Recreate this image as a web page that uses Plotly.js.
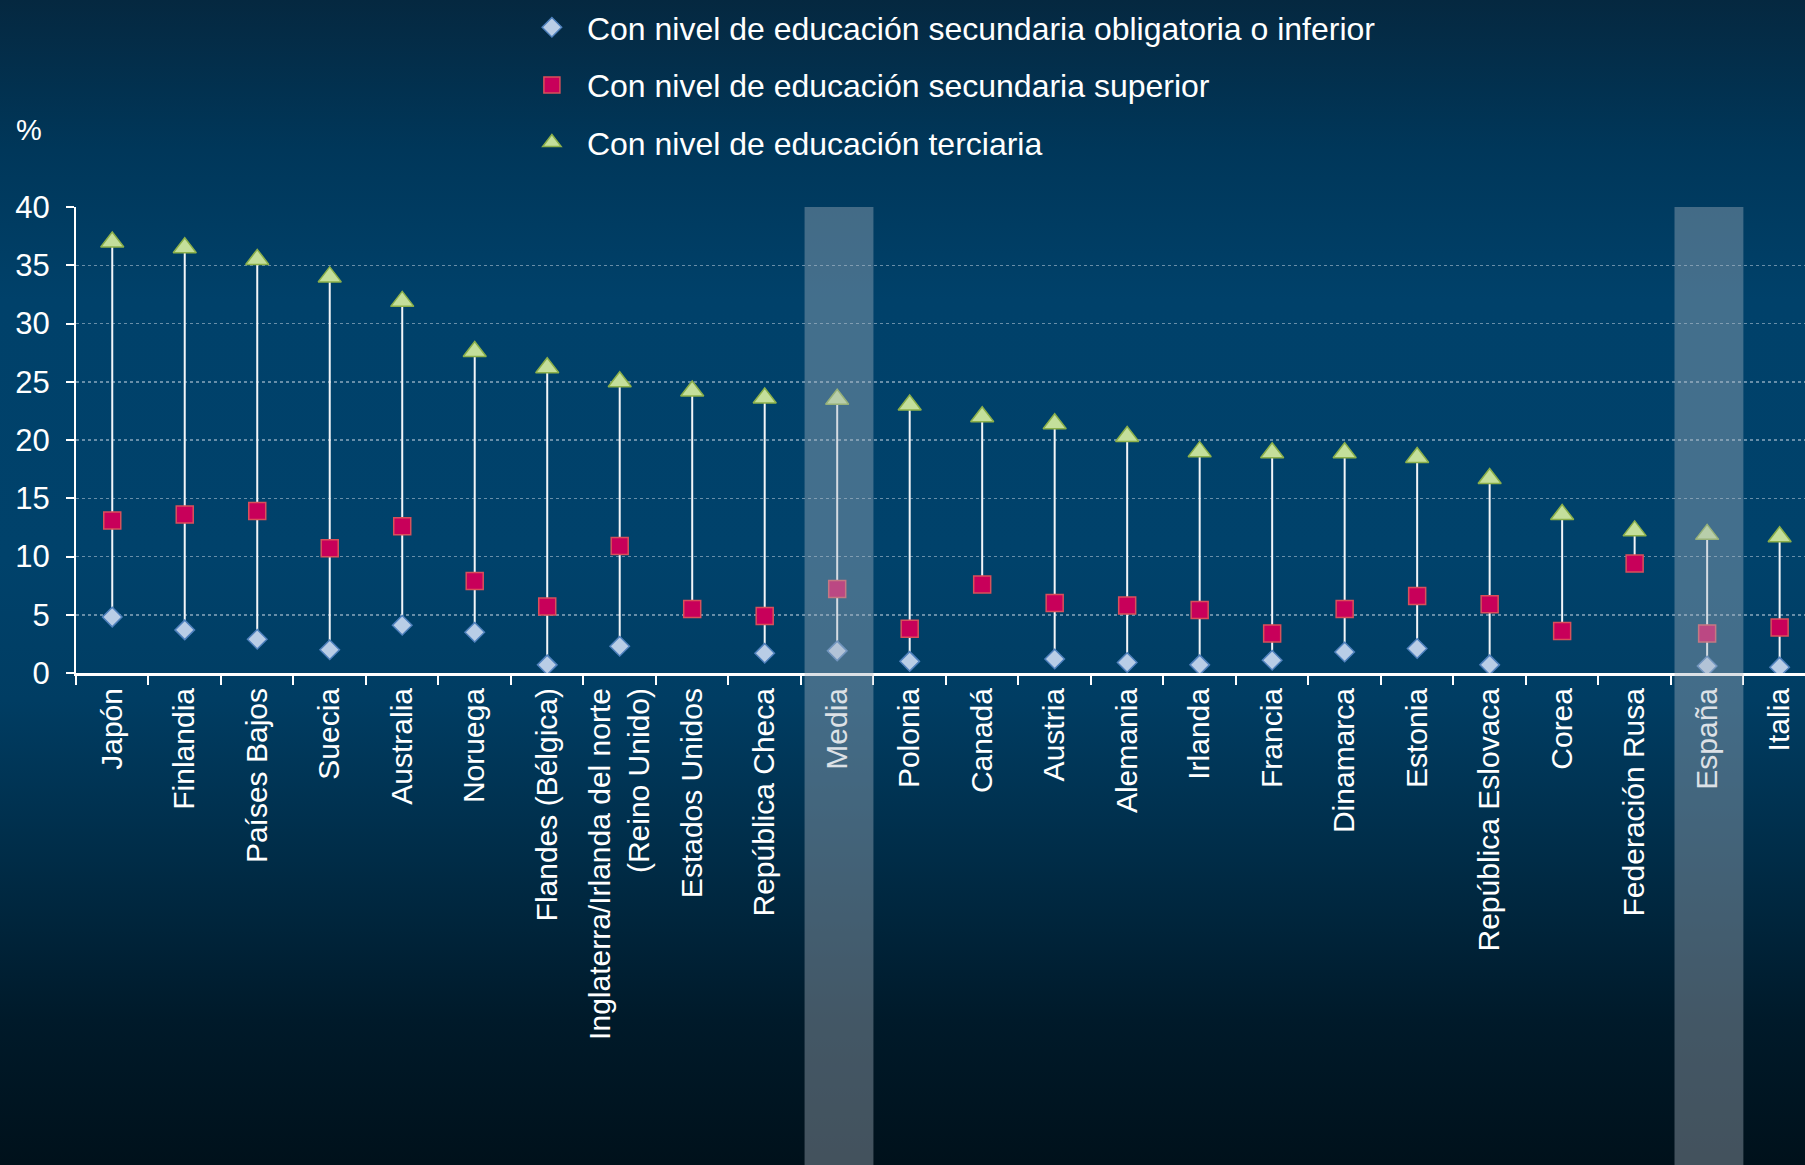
<!DOCTYPE html>
<html>
<head>
<meta charset="utf-8">
<script src="https://cdn.plot.ly/plotly-3.0.1.min.js"></script>
<style>
html,body{margin:0;padding:0;width:1805px;height:1165px;overflow:hidden;
background:linear-gradient(to bottom,#052840 0px,#00375a 150px,#00416a 300px,#00426b 560px,#003d63 700px,#002c47 860px,#001a2a 1020px,#00111b 1165px);}
#chart{width:1805px;height:1165px;}
</style>
</head>
<body>
<div id="chart"></div>
<script>
const categories = ["Japón","Finlandia","Países Bajos","Suecia","Australia","Noruega","Flandes (Bélgica)",
  "Inglaterra/Irlanda del norte<br>(Reino Unido)","Estados Unidos","República Checa","Media","Polonia","Canadá",
  "Austria","Alemania","Irlanda","Francia","Dinamarca","Estonia","República Eslovaca","Corea","Federación Rusa",
  "España","Italia"];
const lowerSecondary = [4.8,3.7,2.9,2.0,4.1,3.5,0.7,2.3,null,1.7,1.9,1.0,null,1.2,0.9,0.7,1.1,1.8,2.1,0.7,null,null,0.6,0.5];
const upperSecondary = [13.1,13.6,13.9,10.7,12.6,7.9,5.7,10.9,5.5,4.9,7.2,3.8,7.6,6.0,5.8,5.4,3.4,5.5,6.6,5.9,3.6,9.4,3.4,3.9];
const tertiary = [37.0,36.5,35.5,34.0,31.9,27.6,26.2,25.0,24.2,23.6,23.5,23.0,22.0,21.4,20.3,19.0,18.9,18.9,18.5,16.7,13.6,12.2,11.9,11.7];
const seriesNames = ["Con nivel de educación secundaria obligatoria o inferior",
  "Con nivel de educación secundaria superior",
  "Con nivel de educación terciaria"];
const highlighted = ["Media","España"];
const yTickValues = [0,5,10,15,20,25,30,35,40];

const FONT = "Liberation Sans, Arial, Helvetica, sans-serif";

// high-low connector lines built from the data
const lineX = [], lineY = [];
categories.forEach((c, i) => {
  const vals = [lowerSecondary[i], upperSecondary[i], tertiary[i]].filter(v => v !== null);
  lineX.push(c, c, null);
  lineY.push(Math.max(...vals), Math.min(...vals), null);
});

const traces = [
  {x: lineX, y: lineY, mode: "lines", type: "scatter", showlegend: false, hoverinfo: "skip",
   line: {color: "#f2f5f8", width: 2}},
  {x: categories, y: lowerSecondary, name: seriesNames[0], legendgroup: "a", mode: "markers", type: "scatter",
   marker: {symbol: "diamond", size: 15, color: "#b9cde6", line: {color: "#4f81bd", width: 1.5}}},
  {x: categories, y: upperSecondary, name: seriesNames[1], legendgroup: "b", mode: "markers", type: "scatter",
   marker: {symbol: "square", size: 17, color: "#c8005a", line: {color: "#d9505a", width: 1.5}}},
  {x: categories, y: tertiary, name: seriesNames[2], legendgroup: "c", mode: "markers", type: "scatter",
   marker: {symbol: "triangle-up", size: 20, color: "#c4df9b", line: {color: "#8cb04a", width: 1.5}}}
];

const shapes = highlighted.map(h => {
  const i = categories.indexOf(h);
  return {type: "rect", xref: "x", yref: "paper", x0: i - 0.45, x1: i + 0.5, y0: -1.06, y1: 1,
    fillcolor: "rgba(168,180,192,0.40)", line: {width: 0}, layer: "above"};
});

const layout = {
  width: 1805, height: 1165,
  paper_bgcolor: "rgba(0,0,0,0)", plot_bgcolor: "rgba(0,0,0,0)",
  margin: {l: 76, r: 0, t: 207, b: 492, pad: 0},
  font: {family: FONT, color: "#ffffff"},
  showlegend: true,
  legend: {x: 0.255, xanchor: "left", yref: "container", y: 1, yanchor: "top", bgcolor: "rgba(0,0,0,0)",
    font: {size: 32, color: "#ffffff", family: FONT}, traceorder: "grouped", tracegroupgap: 13, itemwidth: 60},
  xaxis: {type: "category", range: [-0.5, 23.35], tickson: "boundaries", ticks: "outside", ticklen: 9,
    tickwidth: 2, tickcolor: "#ffffff", showline: true, linecolor: "#ffffff", linewidth: 3,
    tickangle: -90, tickfont: {size: 30, color: "#ffffff", family: FONT}, showgrid: false, zeroline: false,
    fixedrange: true},
  yaxis: {range: [0, 40], tickvals: yTickValues, ticks: "outside", ticklen: 8, tickwidth: 2, tickcolor: "#ffffff",
    showline: true, linecolor: "#ffffff", linewidth: 2, showgrid: true, gridcolor: "rgba(190,205,220,0.55)",
    griddash: "dot", gridwidth: 1.5, zeroline: false, tickfont: {size: 31, color: "#ffffff", family: FONT},
    ticklabelstandoff: 10, fixedrange: true},
  shapes: shapes,
  annotations: [{text: "%", xref: "paper", yref: "paper", x: -0.036, y: 1.165, xanchor: "left", yanchor: "middle",
    showarrow: false, font: {size: 29, color: "#ffffff", family: FONT}}]
};

Plotly.newPlot("chart", traces, layout, {displayModeBar: false, staticPlot: true});
</script>
</body>
</html>
